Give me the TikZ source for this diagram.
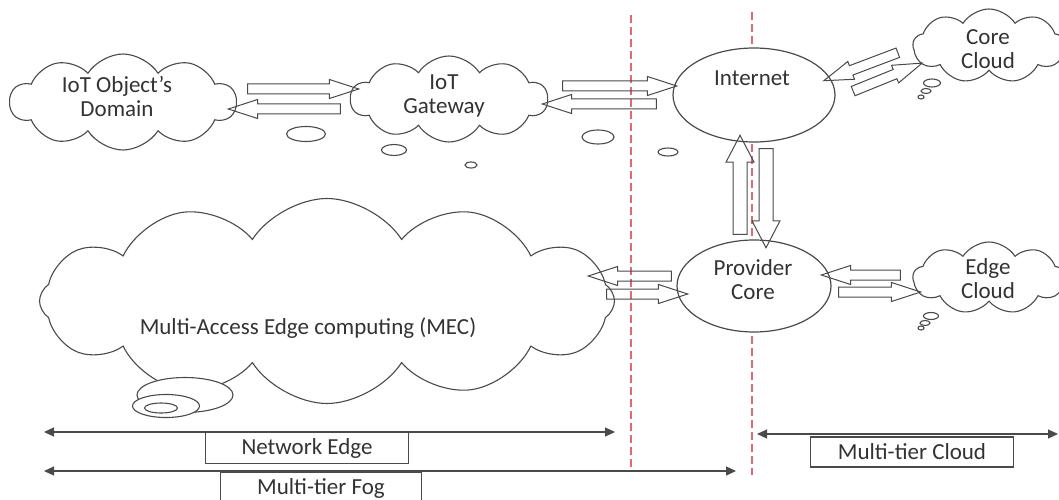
\documentclass[tikz,border=0pt]{standalone}
\usepackage{fontspec}
\setmainfont{Carlito}
\usetikzlibrary{shapes.symbols,shapes.geometric,shapes.arrows,calc,arrows.meta}
\definecolor{ln}{HTML}{4A4A4A}
\definecolor{txt}{HTML}{333333}
\definecolor{redd}{HTML}{E06A72}
\tikzset{
  cloudsty/.style={cloud, draw=ln, fill=white, line width=1.1pt, cloud puffs=10, cloud puff arc=115, inner sep=0pt, aspect=2},
  bubble/.style={ellipse, draw=ln, fill=white, line width=1.1pt, inner sep=0pt},
  oval/.style={ellipse, draw=ln, fill=white, line width=1.2pt, inner sep=0pt},
  lbl/.style={align=center, text=txt, inner sep=0pt},
  barrow/.style={single arrow, draw=ln, line width=1pt, inner xsep=0pt, inner ysep=4.5pt, outer sep=0pt, minimum width=0pt, single arrow head extend=4.5pt, single arrow tip angle=36},
  fatarrow/.style={inner ysep=6.5pt, single arrow head extend=7pt, single arrow tip angle=55},
  sep/.style={redd, line width=1.2pt, dash pattern=on 8pt off 4pt},
  span/.style={ln, line width=1.2pt, {Triangle[length=10pt,width=9pt]}-{Triangle[length=10pt,width=9pt]}},
  tag/.style={draw=ln, line width=1.1pt, fill=white, text=txt, minimum width=203pt, minimum height=31pt, inner sep=0pt}
}
\newcommand\blockarrow[3][]{%
  \path let \p1=(#2), \p2=(#3), \n1={veclen(\x2-\x1,\y2-\y1)}, \n2={atan2(\y2-\y1,\x2-\x1)} in
    node[barrow, #1, minimum height=\n1, rotate=\n2] at ($(#2)!0.5!(#3)$) {};}
\begin{document}
\begin{tikzpicture}[x=1pt, y=-1pt, font=\fontsize{23}{24}\selectfont]
\useasboundingbox[fill=white] (0,0) rectangle (1059,500);

% separators
\coordinate (s1t) at (631,15);  \coordinate (s1b) at (631,467);
\coordinate (s2t) at (752,12);  \coordinate (s2b) at (752,475);
\draw[sep] (s1t) -- (s1b);
\draw[sep] (s2t) -- (s2b);

% clouds
\node[cloudsty, minimum width=226pt, minimum height=96pt] (dom) at (123,102) {};
\node[lbl] (domt) at (117,96) {IoT Object’s\\Domain};
\node[cloudsty, minimum width=197pt, minimum height=86pt] (gw) at (449,99) {};
\node[lbl] (gwt) at (444,96) {IoT\\Gateway};
\node[cloudsty, cloud puffs=12, minimum width=575pt, minimum height=205pt] (mec) at (327,301) {};
\node[lbl] (mect) at (308,328) {Multi-Access Edge computing (MEC)};
\node[cloudsty, cloud puffs=9, minimum width=152pt, minimum height=74pt] (core) at (989,46) {};
\node[lbl] (coret) at (988,49) {Core\\Cloud};
\node[cloudsty, cloud puffs=9, minimum width=152pt, minimum height=72pt] (edge) at (989,278) {};
\node[lbl] (edget) at (988,279) {Edge\\Cloud};

% thought bubbles
\node[bubble, minimum width=39pt, minimum height=15pt] (b1) at (306,134) {};
\node[bubble, minimum width=25pt, minimum height=11pt] (b2) at (394,150) {};
\node[bubble, minimum width=12pt, minimum height=6pt] (b3) at (471,165) {};
\node[bubble, minimum width=32pt, minimum height=14pt] (b4) at (598,137) {};
\node[bubble, minimum width=20pt, minimum height=8pt] (b5) at (668,152) {};
\node[bubble, minimum width=17pt, minimum height=8pt] (c1) at (932,83) {};
\node[bubble, minimum width=10pt, minimum height=5pt] (c2) at (926,91) {};
\node[bubble, minimum width=6pt, minimum height=4pt] (c3) at (921,97) {};
\node[bubble, minimum width=15pt, minimum height=7pt] (e1) at (931,316) {};
\node[bubble, minimum width=10pt, minimum height=5pt] (e2) at (925,323) {};
\node[bubble, minimum width=6pt, minimum height=4pt] (e3) at (921,328) {};
\node[bubble, minimum width=96pt, minimum height=35pt] (m1) at (185,395) {};
\node[bubble, minimum width=67pt, minimum height=23pt] (m2) at (166,406) {};
\node[bubble, minimum width=33pt, minimum height=10pt] (m3) at (161,408) {};

% ellipses
\node[oval, minimum width=162pt, minimum height=94pt] (inet) at (754,95) {};
\node[lbl] (inett) at (752,78) {Internet};
\node[oval, minimum width=154pt, minimum height=92pt] (prov) at (754,286) {};
\node[lbl] (provt) at (753,280) {Provider\\Core};

% block arrow end points
\coordinate (a1s) at (240,89);  \coordinate (a1e) at (351,89);
\coordinate (a2s) at (348,109); \coordinate (a2e) at (236,109);
\coordinate (a3s) at (555,86);  \coordinate (a3e) at (669,86);
\coordinate (a4s) at (664,104); \coordinate (a4e) at (550,104);
\coordinate (a5s) at (905,50);  \coordinate (a5e) at (831,78);
\coordinate (a6s) at (846,94);  \coordinate (a6e) at (915,66);
\coordinate (a7s) at (740,241); \coordinate (a7e) at (740,142);
\coordinate (a8s) at (766,142); \coordinate (a8e) at (766,241);
\coordinate (a9s) at (679,276); \coordinate (a9e) at (596,276);
\coordinate (a10s) at (599,294); \coordinate (a10e) at (680,294);
\coordinate (a11s) at (908,275); \coordinate (a11e) at (829,275);
\coordinate (a12s) at (831,292); \coordinate (a12e) at (913,292);
\blockarrow{a1s}{a1e}
\blockarrow{a2s}{a2e}
\blockarrow{a3s}{a3e}
\blockarrow{a4s}{a4e}
\blockarrow{a5s}{a5e}
\blockarrow{a6s}{a6e}
\blockarrow[fatarrow]{a7s}{a7e}
\blockarrow[fatarrow]{a8s}{a8e}
\blockarrow{a9s}{a9e}
\blockarrow{a10s}{a10e}
\blockarrow{a11s}{a11e}
\blockarrow{a12s}{a12e}

% spans
\coordinate (ne1) at (44,432);  \coordinate (ne2) at (615,432);
\coordinate (mf1) at (44,471);  \coordinate (mf2) at (736,471);
\coordinate (mc1) at (757,434); \coordinate (mc2) at (1058,434);
\draw[span] (ne1) -- (ne2);
\draw[span] (mf1) -- (mf2);
\draw[span] (mc1) -- (mc2);
\node[tag] (net) at (307,448) {Network Edge};
\node[tag, minimum width=201pt, minimum height=31pt] (fog) at (321,488) {Multi-tier Fog};
\node[tag, minimum height=30pt] (mcl) at (912,452) {Multi-tier Cloud};
\end{tikzpicture}
\end{document}
